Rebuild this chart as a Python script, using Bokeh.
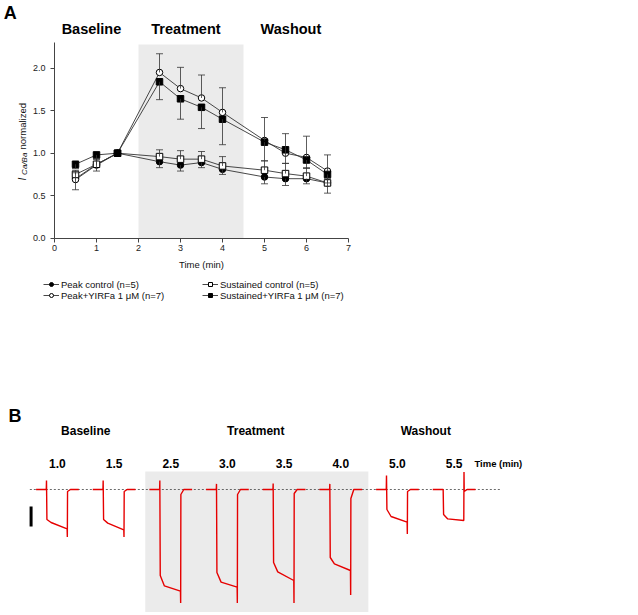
import numpy as np
from bokeh.plotting import figure
from bokeh.models import (ColumnDataSource, Whisker, TeeHead, Label, Legend, LegendItem,
                          FixedTicker, Range1d, PrintfTickFormatter, LinearAxis)
from bokeh.embed import file_html
from bokeh.resources import INLINE

FONT = "Liberation Sans"

# ---------------- Panel A data ----------------
time_min = [0.5, 1.0, 1.5, 2.5, 3.0, 3.5, 4.0, 5.0, 5.5, 6.0, 6.5]
peak_control = [0.70, 0.87, 1.00, 0.90, 0.86, 0.89, 0.81, 0.72, 0.70, 0.70, 0.65]
peak_control_err = [0.13, 0.08, 0.0, 0.07, 0.07, 0.06, 0.06, 0.08, 0.08, 0.06, 0.12]
peak_yirfa = [0.69, 0.86, 1.00, 1.95, 1.76, 1.65, 1.48, 1.15, 1.00, 0.95, 0.79]
peak_yirfa_err = [0.08, 0.07, 0.0, 0.22, 0.25, 0.27, 0.29, 0.27, 0.23, 0.25, 0.19]
sust_control = [0.75, 0.87, 1.00, 0.96, 0.93, 0.93, 0.85, 0.80, 0.76, 0.73, 0.65]
sust_control_err = [0.05, 0.06, 0.0, 0.08, 0.10, 0.09, 0.11, 0.11, 0.12, 0.10, 0.05]
sust_yirfa = [0.87, 0.98, 1.00, 1.84, 1.64, 1.54, 1.40, 1.13, 1.04, 0.92, 0.75]
sust_yirfa_err = [0.05, 0.04, 0.0, 0.21, 0.24, 0.25, 0.30, 0.22, 0.16, 0.10, 0.10]

series_labels = ["Peak control (n=5)", "Peak+YIRFa 1 \u03bcM (n=7)",
                 "Sustained control (n=5)", "Sustained+YIRFa 1 \u03bcM (n=7)"]

phase_names = ["Baseline", "Treatment", "Washout"]
phase_bounds = [0.0, 2.0, 4.5, 7.0]
shade_top = 2.28
y_axis_top = 2.306
x_ticks = [0, 1, 2, 3, 4, 5, 6, 7]
y_ticks = [0.0, 0.5, 1.0, 1.5, 2.0]

# ---------------- Panel B data ----------------
trace_labels = ["1.0", "1.5", "2.5", "3.0", "3.5", "4.0", "5.0", "5.5"]
trace_phase = [0, 0, 1, 1, 1, 1, 2, 2]
# key times of each sweep (ms, relative to pulse onset)
key_times = [-50, -1, 0, 2, 22, 99, 100, 101, 115, 155]
# current (pA) at the key points
onset_spike = [45, 45, 45, 28, 30, 28, 70, 0]
knee = [-150, -150, -430, -415, -365, -340, -100, -125]
settle = [-165, -168, -482, -463, -412, -372, -135, -147]
end_level = [-197, -202, -508, -488, -455, -405, -163, -155]
tail_spike = [-238, -238, -568, -568, -568, -527, -222, 87]
post_start = [-10, -10, -25, -25, -20, -45, -10, -10]
scale_bar_pA = 100

# ---------------- one canvas, two coordinate systems ----------------
W, H = 636, 612
# panel B (default ranges): ms and pA
ms_per_px = 4.8
pa_per_px = 5.0
xb0 = -46 * ms_per_px
yb_top = 489 * pa_per_px
# panel A (extra ranges): minutes and normalized current
px_per_min = 42.0
px_per_unit = 85.0
xa0 = -54 / px_per_min
ya_top = 237.7 / px_per_unit

p = figure(width=W, height=H, x_range=Range1d(xb0, xb0 + W * ms_per_px),
           y_range=Range1d(yb_top - H * pa_per_px, yb_top),
           x_axis_type=None, y_axis_type=None, min_border=0,
           toolbar_location=None, output_backend="svg")
p.extra_x_ranges = {"ax": Range1d(xa0, xa0 + W / px_per_min)}
p.extra_y_ranges = {"ay": Range1d(ya_top - H / px_per_unit, ya_top)}
p.grid.visible = False
p.outline_line_color = None
p.background_fill_color = "white"
p.border_fill_color = "white"

A = dict(x_range_name="ax", y_range_name="ay")

# ===== Panel A =====
p.quad(left=[phase_bounds[1]], right=[phase_bounds[2]], bottom=[0], top=[shade_top],
       fill_color="#ebebeb", line_color=None, **A)

LC = "#333333"


def add_err(vals, errs, up):
    xs = [t for t, e in zip(time_min, errs) if e > 0]
    v = [a for a, e in zip(vals, errs) if e > 0]
    ee = [e for e in errs if e > 0]
    head = TeeHead(size=7, line_color=LC, line_width=0.8)
    if up:
        src = ColumnDataSource(dict(base=xs, lower=v, upper=[a + e for a, e in zip(v, ee)]))
        w = Whisker(source=src, base="base", lower="lower", upper="upper", dimension="height",
                    upper_head=head, lower_head=None, line_color=LC, line_width=0.8,
                    level="glyph", **A)
    else:
        src = ColumnDataSource(dict(base=xs, upper=v, lower=[a - e for a, e in zip(v, ee)]))
        w = Whisker(source=src, base="base", lower="lower", upper="upper", dimension="height",
                    lower_head=head, upper_head=None, line_color=LC, line_width=0.8,
                    level="glyph", **A)
    p.add_layout(w)


add_err(peak_control, peak_control_err, False)
add_err(sust_control, sust_control_err, True)
add_err(peak_yirfa, peak_yirfa_err, True)
add_err(sust_yirfa, sust_yirfa_err, False)

specs = [
    (peak_control, "circle", "black"),
    (peak_yirfa, "circle", "white"),
    (sust_control, "square", "white"),
    (sust_yirfa, "square", "black"),
]
lines = [p.line(time_min, vals, line_color=LC, line_width=0.9, **A) for vals, mk, fill in specs]
marks = [p.scatter(time_min, vals, marker=mk, size=6.5, fill_color=fill, line_color="black",
                   line_width=1, **A) for vals, mk, fill in specs]

xa = LinearAxis(fixed_location=0, bounds=(phase_bounds[0], phase_bounds[-1]),
                ticker=FixedTicker(ticks=x_ticks), axis_label="Time (min)", **A)
ya = LinearAxis(fixed_location=0, bounds=(0, y_axis_top), ticker=FixedTicker(ticks=y_ticks),
                formatter=PrintfTickFormatter(format="%.1f"), **A)
for ax in (xa, ya):
    ax.axis_line_color = "#444444"
    ax.major_tick_line_color = "#444444"
    ax.major_tick_out = 4
    ax.major_tick_in = 0
    ax.minor_tick_line_color = None
    ax.major_label_text_font = FONT
    ax.major_label_text_font_size = "9px"
    ax.major_label_text_color = "#222222"
xa.major_label_standoff = 3
ya.major_label_standoff = 5
xa.axis_label_text_font = FONT
xa.axis_label_text_font_size = "9.5px"
xa.axis_label_text_font_style = "normal"
xa.axis_label_text_color = "#111111"
xa.axis_label_standoff = 4
p.add_layout(xa, "below")
p.add_layout(ya, "left")

# y label: I_Ca/Ba normalized
p.add_layout(Label(x=-0.769, y=0.679, text="I", angle=np.pi / 2, text_align="left",
                   text_baseline="middle", text_font=FONT, text_font_size="10px",
                   text_font_style="italic", text_color="#111111", **A))
p.add_layout(Label(x=-0.722, y=0.745, text="Ca/Ba", angle=np.pi / 2, text_align="left",
                   text_baseline="middle", text_font=FONT, text_font_size="8px",
                   text_font_style="italic", text_color="#111111", **A))
p.add_layout(Label(x=-0.769, y=1.044, text="normalized", angle=np.pi / 2, text_align="left",
                   text_baseline="middle", text_font=FONT, text_font_size="9.5px",
                   text_color="#111111", **A))

for i, name in enumerate(phase_names):
    cx = (phase_bounds[i] + phase_bounds[i + 1]) / 2 - 0.12
    p.add_layout(Label(x=cx, y=2.467, text=name, text_align="center", text_baseline="middle",
                       text_font=FONT, text_font_size="14.5px", text_font_style="bold",
                       text_color="black", **A))
p.add_layout(Label(x=-1.21, y=2.65, text="A", text_align="left", text_baseline="middle",
                   text_font=FONT, text_font_size="18px", text_font_style="bold",
                   text_color="black", **A))

legend = Legend(items=[LegendItem(label=series_labels[i], renderers=[lines[i], marks[i]])
                       for i in range(4)],
                location=(43, H - 300.5), orientation="vertical", nrows=2, ncols=2,
                background_fill_alpha=0, border_line_alpha=0, padding=0, margin=0,
                spacing=0, label_standoff=2, glyph_width=16, glyph_height=10,
                label_height=10, label_width=141, label_text_font=FONT,
                label_text_font_size="9.5px", label_text_color="#111111")
p.add_layout(legend, "center")

# ===== Panel B =====
slot_ms = 272
onsets = [i * slot_ms for i in range(len(trace_labels))]

t_idx = [i for i, ph in enumerate(trace_phase) if ph == 1]
p.quad(left=[onsets[t_idx[0]] + key_times[0] - 20], right=[onsets[t_idx[-1]] + key_times[-1] + 30],
       bottom=[-700], top=[90], fill_color="#ebebeb", line_color=None)

p.line([onsets[0] - 80, onsets[-1] + key_times[-1] + 120], [0, 0], line_color="#444444",
       line_width=0.8, line_dash="2 2")

xs, ys = [], []
for i in range(len(trace_labels)):
    xs.append([onsets[i] + t for t in key_times])
    ys.append([0, 0, onset_spike[i], knee[i], settle[i], end_level[i], tail_spike[i],
               post_start[i], 0, 0])
p.multi_line(xs, ys, line_color="#e60000", line_width=1.4)

p.line([onsets[0] - 74, onsets[0] - 74], [-85, -85 - scale_bar_pA], line_color="black",
       line_width=3)

for i, lab in enumerate(trace_labels):
    cx = onsets[i] + (key_times[0] + key_times[-1]) / 2
    p.add_layout(Label(x=cx, y=132, text=lab, text_align="center", text_baseline="middle",
                       text_font=FONT, text_font_size="12px", text_font_style="bold",
                       text_color="black"))
p.add_layout(Label(x=onsets[-1] + key_times[-1] - 5, y=132, text="Time (min)", text_align="left",
                   text_baseline="middle", text_font=FONT, text_font_size="9.5px",
                   text_font_style="bold", text_color="black"))
for ph, name in enumerate(phase_names):
    idx = [i for i, q in enumerate(trace_phase) if q == ph]
    c0 = onsets[idx[0]] + (key_times[0] + key_times[-1]) / 2
    c1 = onsets[idx[-1]] + (key_times[0] + key_times[-1]) / 2
    p.add_layout(Label(x=(c0 + c1) / 2, y=291, text=name, text_align="center",
                       text_baseline="middle", text_font=FONT, text_font_size="12px",
                       text_font_style="bold", text_color="black"))
p.add_layout(Label(x=xb0 + 8 * ms_per_px, y=370, text="B", text_align="left",
                   text_baseline="middle", text_font=FONT, text_font_size="18px",
                   text_font_style="bold", text_color="black"))

open("out.html", "w").write(file_html(p, INLINE))
